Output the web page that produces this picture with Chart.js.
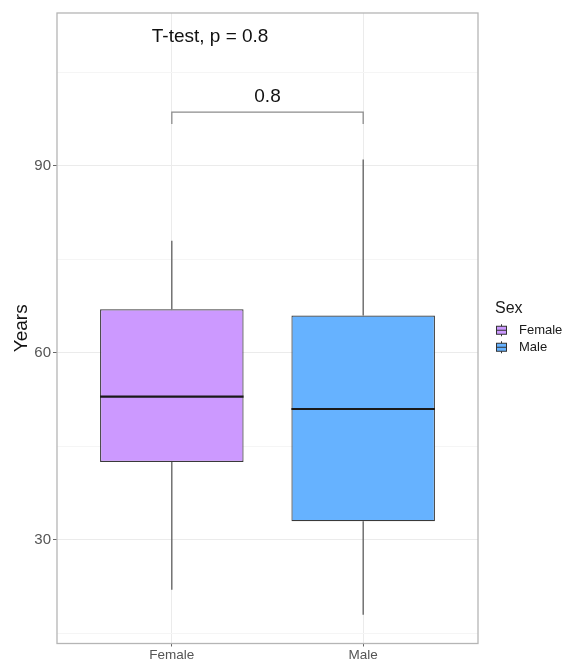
<!DOCTYPE html>
<html>
<head>
<meta charset="utf-8">
<script src="https://cdn.jsdelivr.net/npm/chart.js@4/dist/chart.umd.min.js"></script>
<style>
  html, body { margin: 0; padding: 0; background: #ffffff; }
  #wrap { width: 567px; height: 660px; position: relative; }
</style>
</head>
<body>
<div id="wrap"><canvas id="c" width="567" height="660"></canvas></div>
<script>
// ---- data ----
const categories   = ['Female', 'Male'];
const boxColors    = ['#CC99FF', '#66B2FF'];
const q1           = [42.5, 33];
const medians      = [53, 51];
const q3           = [67, 66];
const whiskerLow   = [22, 18];
const whiskerHigh  = [78, 91];
const yMajorTicks  = [30, 60, 90];
const yMinorTicks  = [15, 45, 75, 105];
const bracketTop   = 98.6;
const bracketFoot  = 96.7;
const pairLabel    = '0.8';
const testLabel    = 'T-test, p = 0.8';
const testLabelPos = { x: 1.2, y: 110.7 };
const pairLabelPos = { x: 1.5, y: 101 };
const legendTitle  = 'Sex';

const FONT = '"Liberation Sans", Arial, Helvetica, sans-serif';

const boxData = categories.map((c, i) => ({ x: i + 1, y: [q1[i], q3[i]] }));
const bracketData = [
  { x: 1, y: bracketFoot }, { x: 1, y: bracketTop },
  { x: 2, y: bracketTop },  { x: 2, y: bracketFoot }
];

const decor = {
  id: 'decor',
  afterDatasetsDraw(chart) {
    const { ctx, chartArea: a, scales: { x, y } } = chart;
    const meta = chart.getDatasetMeta(0);
    ctx.save();
    // whiskers
    ctx.strokeStyle = '#5e5e5e';
    ctx.lineWidth = 1.3;
    categories.forEach((c, i) => {
      const px = x.getPixelForValue(i + 1);
      ctx.beginPath();
      ctx.moveTo(px, y.getPixelForValue(q3[i]));
      ctx.lineTo(px, y.getPixelForValue(whiskerHigh[i]));
      ctx.moveTo(px, y.getPixelForValue(q1[i]));
      ctx.lineTo(px, y.getPixelForValue(whiskerLow[i]));
      ctx.stroke();
    });
    // medians
    ctx.strokeStyle = '#1a1a1a';
    ctx.lineWidth = 2.2;
    categories.forEach((c, i) => {
      const el = meta.data[i];
      const half = el.width / 2;
      const py = y.getPixelForValue(medians[i]);
      ctx.beginPath();
      ctx.moveTo(el.x - half, py);
      ctx.lineTo(el.x + half, py);
      ctx.stroke();
    });
    // texts
    ctx.fillStyle = '#111';
    ctx.textAlign = 'center';
    ctx.textBaseline = 'middle';
    ctx.font = '19px ' + FONT;
    ctx.fillText(testLabel, x.getPixelForValue(testLabelPos.x), y.getPixelForValue(testLabelPos.y));
    ctx.fillText(pairLabel, x.getPixelForValue(pairLabelPos.x), y.getPixelForValue(pairLabelPos.y));
    // panel border
    ctx.strokeStyle = '#b5b5b5';
    ctx.lineWidth = 1.3;
    ctx.strokeRect(a.left, a.top, a.right - a.left, a.bottom - a.top);
    // legend
    const lx = a.right + 18;
    const ty = (a.top + a.bottom) / 2 - 20;
    ctx.textAlign = 'left';
    ctx.fillStyle = '#1a1a1a';
    ctx.font = '16px ' + FONT;
    ctx.fillText(legendTitle, lx - 1, ty);
    categories.forEach((c, i) => {
      const cy = ty + 22 + i * 17;
      // key glyph: mini boxplot
      ctx.strokeStyle = '#333';
      ctx.lineWidth = 1;
      ctx.fillStyle = boxColors[i];
      ctx.fillRect(lx, cy - 4, 11, 8);
      ctx.strokeRect(lx + 0.5, cy - 4, 10, 8);
      ctx.beginPath();
      ctx.moveTo(lx, cy); ctx.lineTo(lx + 11, cy);
      ctx.moveTo(lx + 5.5, cy - 4); ctx.lineTo(lx + 5.5, cy - 6);
      ctx.moveTo(lx + 5.5, cy + 4); ctx.lineTo(lx + 5.5, cy + 6);
      ctx.stroke();
      ctx.fillStyle = '#1a1a1a';
      ctx.font = '13px ' + FONT;
      ctx.fillText(c, lx + 23, cy + 0.5);
    });
    ctx.restore();
  }
};

new Chart(document.getElementById('c'), {
  type: 'bar',
  data: {
    datasets: [
      {
        type: 'bar',
        data: boxData,
        backgroundColor: boxColors,
        borderColor: '#3a3a3a',
        borderWidth: 1.2,
        borderSkipped: false,
        barPercentage: 0.75,
        categoryPercentage: 1.0,
        order: 2
      },
      {
        type: 'line',
        data: bracketData,
        borderColor: '#8c8c8c',
        borderWidth: 1.3,
        pointRadius: 0,
        tension: 0,
        fill: false,
        order: 1
      }
    ]
  },
  options: {
    responsive: false,
    animation: false,
    layout: { padding: { top: 13, right: 89, left: 0, bottom: 0 } },
    plugins: {
      legend: { display: false },
      tooltip: { enabled: false }
    },
    scales: {
      x: {
        type: 'linear',
        min: 0.4,
        max: 2.6,
        offset: false,
        afterBuildTicks: s => { s.ticks = categories.map((c, i) => ({ value: i + 1 })); },
        afterFit: s => { s.height = 16.5; },
        ticks: {
          callback: v => categories[Math.round(v) - 1] || '',
          color: '#555',
          font: { family: FONT, size: 13.5, lineHeight: 1 },
          padding: 2,
          maxRotation: 0,
          autoSkip: false
        },
        grid: { offset: false, color: '#ebebeb', lineWidth: 1, tickLength: 3, tickColor: '#666' },
        border: { display: false }
      },
      y: {
        type: 'linear',
        min: 13.4,
        max: 114.5,
        afterBuildTicks: s => {
          s.ticks = yMajorTicks.concat(yMinorTicks).sort((a, b) => a - b).map(v => ({ value: v }));
        },
        afterFit: s => { s.width = 57; },
        ticks: {
          callback: v => yMajorTicks.includes(v) ? String(v) : '',
          color: '#555',
          font: { family: FONT, size: 15 },
          padding: 2
        },
        grid: {
          color: c => yMajorTicks.includes(c.tick && c.tick.value) ? '#ebebeb' : '#f5f5f5',
          lineWidth: 1,
          tickLength: 4,
          tickColor: c => yMajorTicks.includes(c.tick && c.tick.value) ? '#666' : 'rgba(0,0,0,0)'
        },
        border: { display: false },
        title: {
          display: true,
          text: 'Years',
          color: '#111',
          font: { family: FONT, size: 19 },
          padding: { top: 10, bottom: 0 }
        }
      }
    }
  },
  plugins: [decor]
});
</script>
</body>
</html>
